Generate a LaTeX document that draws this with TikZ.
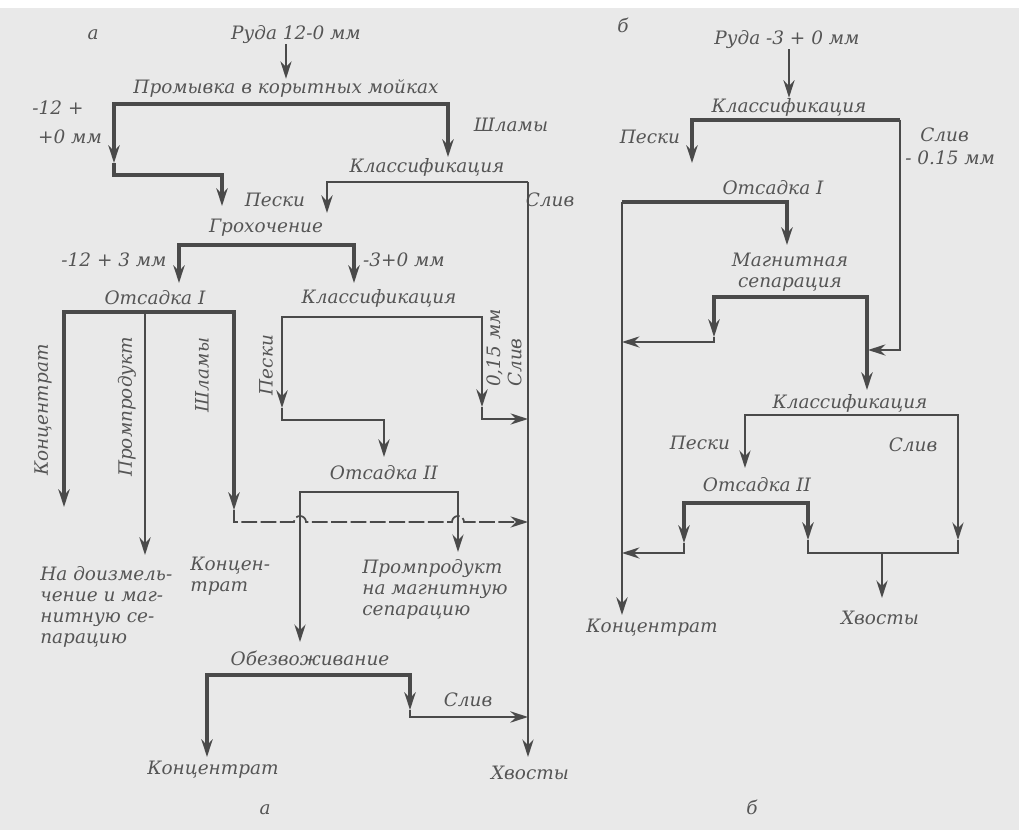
\documentclass[tikz,border=0pt]{standalone}
\usepackage{fontspec}
\setmainfont{DejaVu Serif}
\usetikzlibrary{arrows.meta, positioning}

\definecolor{paper}{HTML}{E9E9E9}
\definecolor{ink}{HTML}{4A4A4A}
\definecolor{inktext}{HTML}{555555}

\begin{document}
\begin{tikzpicture}[x=0.02cm, y=-0.02cm,
    every node/.style={align=left},
    lbl/.style={font=\itshape\fontsize{10.5}{12}\selectfont, text=inktext, inner sep=0pt},
    vlbl/.style={lbl, rotate=90},
    heavy/.style={draw=ink, line width=2pt},
    medium/.style={draw=ink, line width=1.4pt},
    light/.style={draw=ink, line width=1pt},
    arr/.style={-{Stealth[length=10pt, width=6.4pt]}},
    arrs/.style={{Stealth[length=10pt, width=6.4pt]}-{Stealth[length=10pt, width=6.4pt]}},
    hop/.style={dash pattern=on 9pt off 2pt}
    ]

    % paper
    \fill[paper] (0,0) rectangle (1019,830);
    \fill[white] (0,0) rectangle (1019,8);
    \useasboundingbox (0,0) rectangle (1019,830);

    % ===== scheme a =====
    \node[lbl] (tagA) at (93,35) {а};
    \node[lbl] (rudaA) at (296,35) {Руда 12-0 мм};
    \node[lbl] (promyv) at (286,88) {Промывка в корытных мойках};
    \node[lbl] (klassA) at (427,167) {Классификация};
    \node[lbl] (grokh) at (266,228) {Грохочение};
    \node[lbl] (otsA1) at (155,298) {Отсадка I};
    \node[lbl] (klassA2) at (379,298) {Классификация};
    \node[lbl] (otsA2) at (384,473) {Отсадка II};
    \node[lbl] (obezv) at (310,658) {Обезвоживание};
    \node[lbl] (concA) at (213,770) {Концентрат};
    \node[lbl] (tailsA) at (530,773) {Хвосты};
    \node[lbl] (capA) at (265,810) {а};

    % stream labels
    \node[lbl] (sizeA1) at (58,108) {-12 +};
    \node[lbl] (sizeA2) at (70,137) {+0 мм};
    \node[lbl] (slimeA) at (511,125) {Шламы};
    \node[lbl] (sandA) at (275,200) {Пески};
    \node[lbl] (overA) at (550,200) {Слив};
    \node[lbl] (coarseA) at (114,260) {-12 + 3 мм};
    \node[lbl] (fineA) at (404,260) {-3+0 мм};
    \node[vlbl] (vconc) at (43,410) {Концентрат};
    \node[vlbl] (vmidd) at (127,407) {Промпродукт};
    \node[vlbl] (vslime) at (202,375) {Шламы};
    \node[vlbl] (vsand) at (266,365) {Пески};
    \node[vlbl] (vover) at (504,348) {0,15 мм\\Слив};
    \node[lbl, anchor=north west] (regrind) at (40,566) {На доизмель-\\чение и маг-\\нитную се-\\парацию};
    \node[lbl, anchor=north west] (concA2) at (190,557) {Концен-\\трат};
    \node[lbl, anchor=north west] (middA2) at (362,559) {Промпродукт\\на магнитную\\сепарацию};
    \node[lbl] (overA2) at (468,700) {Слив};

    % corners and arrow tips
    \coordinate (pL) at (114,104);  \coordinate (pR) at (448,104);
    \coordinate (pLa) at (114,163); \coordinate (pRa) at (448,157);
    \coordinate (pLb) at (114,175); \coordinate (pLc) at (222,175);
    \coordinate (gIn) at (222,206);
    \coordinate (kAL) at (327,182); \coordinate (kAR) at (528,182);
    \coordinate (kAa) at (327,213); \coordinate (tailsIn) at (528,757);
    \coordinate (gL) at (179,245);  \coordinate (gR) at (354,245);
    \coordinate (gLa) at (179,283); \coordinate (gRa) at (354,283);
    \coordinate (o1L) at (64,312);  \coordinate (o1R) at (234,312);
    \coordinate (o1M) at (145,312); \coordinate (o1Ma) at (145,555);
    \coordinate (o1La) at (64,507); \coordinate (o1Ra) at (234,510);
    \coordinate (o1Rb) at (234,522);
    \coordinate (hop1) at (294,522); \coordinate (hop2) at (452,522);
    \coordinate (j2) at (528,522);
    \coordinate (k2L) at (282,317); \coordinate (k2R) at (482,317);
    \coordinate (k2La) at (282,408); \coordinate (k2Ra) at (482,407);
    \coordinate (k2Lb) at (282,420); \coordinate (k2Lc) at (384,420);
    \coordinate (o2In) at (384,457);
    \coordinate (k2Rb) at (482,419); \coordinate (j1) at (528,419);
    \coordinate (o2L) at (300,492); \coordinate (o2R) at (458,492);
    \coordinate (o2La) at (300,642); \coordinate (o2Ra) at (458,552);
    \coordinate (obL) at (207,675); \coordinate (obR) at (410,675);
    \coordinate (obLa) at (207,757); \coordinate (obRa) at (410,710);
    \coordinate (obRb) at (410,717); \coordinate (j3) at (528,717);

    \draw[light, arr] (rudaA.south -| promyv.north) -- (promyv.north);
    \draw[heavy, arrs] (pLa) -- (pL) -- (pR) -- (pRa);
    \draw[heavy, arr] (pLa) -- (pLb) -- (pLc) -- (gIn);
    \draw[medium, arr] (kAR) -- (kAL) -- (kAa);
    \draw[light, arr] (kAR) -- (tailsIn);
    \draw[heavy, arrs] (gLa) -- (gL) -- (gR) -- (gRa);
    \draw[heavy, arrs] (o1La) -- (o1L) -- (o1R) -- (o1Ra);
    \draw[medium, arr] (o1M) -- (o1Ma);
    \draw[light, hop, arr] (o1Ra) -- (o1Rb) -- (hop1)
        arc[start angle=180, end angle=360, radius=6] -- (hop2)
        arc[start angle=180, end angle=360, radius=6] -- (j2);
    \draw[medium, arrs] (k2La) -- (k2L) -- (k2R) -- (k2Ra);
    \draw[medium, arr] (k2La) -- (k2Lb) -- (k2Lc) -- (o2In);
    \draw[light, arr] (k2Ra) -- (k2Rb) -- (j1);
    \draw[light, arrs] (o2La) -- (o2L) -- (o2R) -- (o2Ra);
    \draw[heavy, arrs] (obLa) -- (obL) -- (obR) -- (obRa);
    \draw[medium, arr] (obRa) -- (obRb) -- (j3);

    % ===== scheme b =====
    \node[lbl] (tagB) at (623,25) {б};
    \node[lbl] (rudaB) at (787,40) {Руда -3 + 0 мм};
    \node[lbl] (klassB) at (789,107) {Классификация};
    \node[lbl] (otsB1) at (773,188) {Отсадка I};
    \node[lbl, align=center] (magsep) at (790,272) {Магнитная\\сепарация};
    \node[lbl] (klassB2) at (850,403) {Классификация};
    \node[lbl] (otsB2) at (757,485) {Отсадка II};
    \node[lbl] (concB) at (652,628) {Концентрат};
    \node[lbl] (tailsB) at (880,618) {Хвосты};
    \node[lbl] (capB) at (752,807) {б};

    \node[lbl] (sandB) at (650,137) {Пески};
    \node[lbl, anchor=west] (overB) at (920,135) {Слив};
    \node[lbl, anchor=west] (overB2) at (905,158) {- 0.15 мм};
    \node[lbl] (sandB2) at (700,443) {Пески};
    \node[lbl] (overB3) at (913,445) {Слив};

    \coordinate (kBL) at (692,120);  \coordinate (kBR) at (900,120);
    \coordinate (kBa) at (692,163);  \coordinate (kBRb) at (900,350);
    \coordinate (jB1) at (868,350);
    \coordinate (o1BL) at (622,202); \coordinate (o1BR) at (787,202);
    \coordinate (o1BRa) at (787,245); \coordinate (concBIn) at (622,615);
    \coordinate (mL) at (714,297);   \coordinate (mR) at (867,297);
    \coordinate (mLa) at (714,337);  \coordinate (mRa) at (867,390);
    \coordinate (mLb) at (714,342);  \coordinate (jB2) at (622,342);
    \coordinate (k2BL) at (745,415); \coordinate (k2BR) at (958,415);
    \coordinate (k2BLa) at (745,468); \coordinate (k2BRa) at (958,540);
    \coordinate (k2BRb) at (958,553);
    \coordinate (o2BL) at (684,503); \coordinate (o2BR) at (808,503);
    \coordinate (o2BLa) at (684,543); \coordinate (o2BRa) at (808,540);
    \coordinate (o2BLb) at (684,553); \coordinate (jB3) at (622,553);
    \coordinate (o2BRb) at (808,553);
    \coordinate (tB) at (882,553);   \coordinate (tailsBIn) at (882,598);

    \draw[light, arr] (rudaB.south -| klassB.north) -- (klassB.north);
    \draw[heavy, arr] (kBR) -- (kBL) -- (kBa);
    \draw[light, arr] (kBR) -- (kBRb) -- (jB1);
    \draw[heavy, arr] (o1BL) -- (o1BR) -- (o1BRa);
    \draw[medium, arr] (o1BL) -- (concBIn);
    \draw[heavy, arrs] (mLa) -- (mL) -- (mR) -- (mRa);
    \draw[light, arr] (mLa) -- (mLb) -- (jB2);
    \draw[light, arrs] (k2BLa) -- (k2BL) -- (k2BR) -- (k2BRa);
    \draw[heavy, arrs] (o2BLa) -- (o2BL) -- (o2BR) -- (o2BRa);
    \draw[light, arr] (o2BLa) -- (o2BLb) -- (jB3);
    \draw[light] (o2BRa) -- (o2BRb) -- (k2BRb) -- (k2BRa);
    \draw[light, arr] (tB) -- (tailsBIn);

\end{tikzpicture}
\end{document}
